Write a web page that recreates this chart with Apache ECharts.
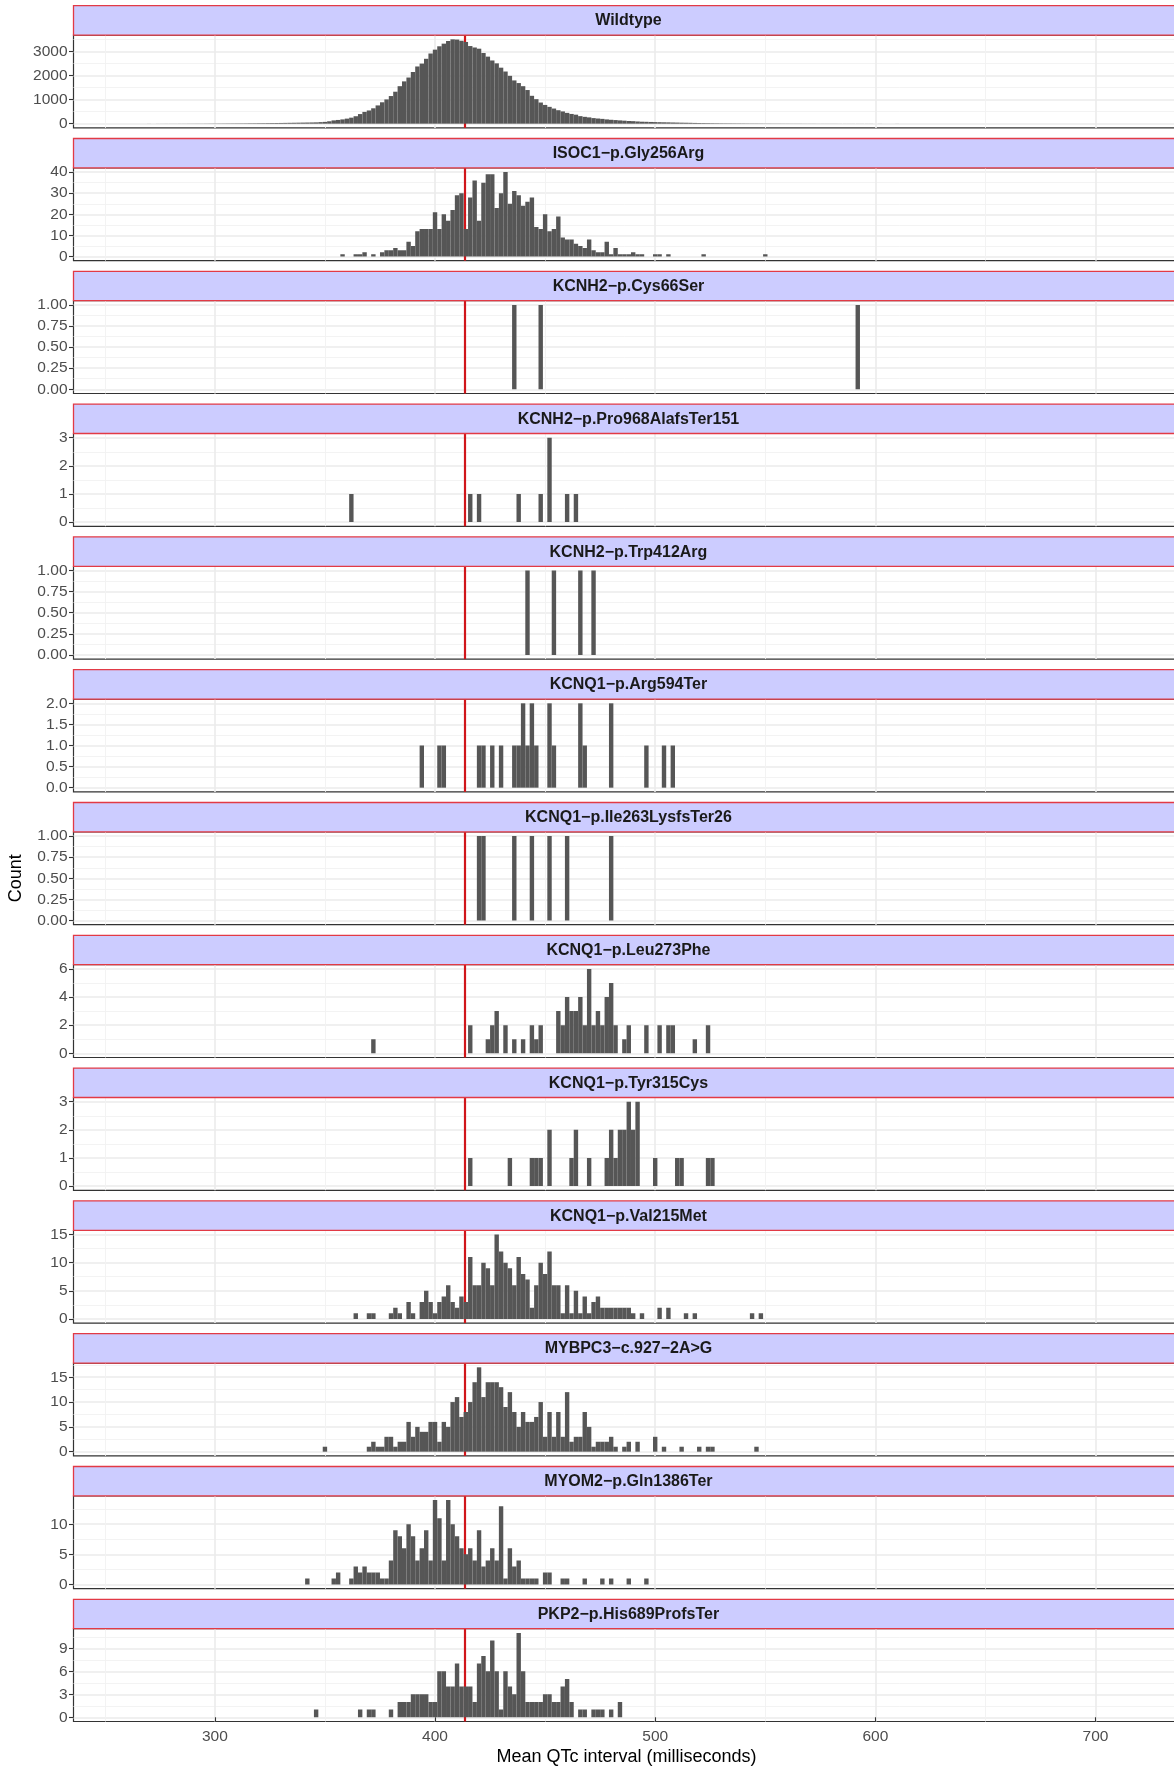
<!DOCTYPE html>
<html><head><meta charset="utf-8">
<script src="https://cdn.jsdelivr.net/npm/echarts@6/dist/echarts.min.js"></script>
<style>html,body{margin:0;padding:0;background:#fff;}#chart{width:1174px;height:1768px;}</style>
</head><body><div id="chart"></div>
<script>
// ---------------- DATA ----------------
const panelNames = [
  'Wildtype', 'ISOC1\u2212p.Gly256Arg', 'KCNH2\u2212p.Cys66Ser', 'KCNH2\u2212p.Pro968AlafsTer151',
  'KCNH2\u2212p.Trp412Arg', 'KCNQ1\u2212p.Arg594Ter', 'KCNQ1\u2212p.Ile263LysfsTer26',
  'KCNQ1\u2212p.Leu273Phe', 'KCNQ1\u2212p.Tyr315Cys', 'KCNQ1\u2212p.Val215Met',
  'MYBPC3\u2212c.927\u22122A>G', 'MYOM2\u2212p.Gln1386Ter', 'PKP2\u2212p.His689ProfsTer'
];
const binWidth = 2;              // ms, bins centred on even values
const xMin = 235.8, xMax = 739.9;
const xBreaks = [300, 400, 500, 600, 700];
const xMinorBreaks = [250, 350, 450, 550, 650];
const refLineX = 413.6;
const xTitle = 'Mean QTc interval (milliseconds)';
const yTitle = 'Count';

// dense histograms: first bin centre + counts every 2 ms
const wildtypeStart = 260;
const wildtypeCounts = [
  1,0,1,1,1,2,1,2,2,3, 3,3,4,4,5,5,6,6,7,8, 9,10,11,12,13,14,15,16,18,19,
  21,22,24,26,28,30,33,36,39,42, 45,48,51,55,65,75,100,137,155,178,
  210,250,310,400,490,550,640,760,890,1010, 1150,1330,1560,1760,1920,2150,2380,2500,2700,2920,
  3080,3220,3330,3440,3510,3500,3450,3400,3230,3170, 3120,2940,2790,2630,2510,2330,2170,1990,1800,1690,
  1560,1400,1160,1020,880,780,700,630,560,510, 450,405,375,314,285,262,232,215,200,178,
  162,150,137,125,112,105,92,82,78,72, 66,62,58,55,50,46,42,39,36,31,
  27,25,23,21,19,17,16,15,14,13, 12,11,10,10,9,8,8,7,7,6, 6,5,5,5,4,4,4,3,3,3,
  3,3,2,2,2,2,2,2,2,2, 1,2,1,1,1,2,1,1,1,1, 1,1,0,1,1,1,0,1,1,0,
  1,1,0,1,0,1,1,0,1,0, 1,0,1,0,1,0,0,1,0,1, 0,1,0,0,1,0,1,0,0,1,
  0,0,1,0,0,1,0,0,1
];
const isoc1Start = 358;
const isoc1Counts = [
  1,0,0,1,1,2,0,1,0,2, 3,3,4,3,3,7,5,12,13,13, 13,21,13,20,17,22,29,30,13,28,
  36,17,35,39,39,23,30,40,25,31, 29,24,26,28,14,13,20,12,13,19, 9,8,8,6,5,4,8,3,2,2,
  7,1,4,1,1,1,2,1,1,0, 0,1,1,0,1,0,0,0,0,0, 0,0,1,0,0,0,0,0,0,0, 0,0,0,0,0,0,1
];
const val215MetStart = 364;
const val215MetCounts = [
  1,0,0,1,1,0,0,0,1,2, 1,0,3,1,0,3,5,3,1,3, 4,6,3,2,4,3,11,6,6,10,
  9,6,15,12,10,9,6,11,8,7, 2,6,10,8,12,6,6,1,6,1, 5,1,4,1,3,4,2,2,2,2,
  2,2,2,1,0,1,0,0,0,2, 0,2,0,0,0,1,0,1,0,0, 0,0,0,0,0,0,0,0,0,0, 1,0,1
];
const mybpc3Start = 350;
const mybpc3Counts = [
  1,0,0,0,0,0,0,0,0,0, 1,2,1,1,3,3,1,2,2,6, 3,5,4,4,6,6,2,6,5,10,
  11,7,8,10,14,17,11,14,14,14, 13,9,12,8,5,8,6,6,7,10, 3,8,3,8,3,12,2,3,3,8,
  5,1,2,2,2,3,1,0,1,2, 0,2,0,0,0,3,0,1,0,0, 0,1,0,0,0,1,0,1,1,0, 0,0,0,0,0,0,0,0,1
];
const myom2Start = 342;
const myom2Counts = [
  1,0,0,0,0,0,1,2,0,0, 1,3,2,3,2,2,2,1,1,4, 9,8,6,10,8,4,6,9,4,14,
  11,4,14,10,8,6,5,6,4,9, 3,4,6,4,13,1,6,3,4,1, 1,1,1,0,2,2,0,0,1,1,
  0,0,0,1,0,0,0,1,0,1, 0,0,0,1,0,0,0,1
];
const pkp2Start = 346;
const pkp2Counts = [
  1,0,0,0,0,0,0,0,0,0, 1,0,1,1,0,0,0,1,0,2, 2,2,3,3,3,3,2,2,6,6,
  4,4,7,4,4,4,2,7,8,6, 10,6,1,6,4,3,11,6,2,2, 2,2,3,3,2,2,4,5,2,0,
  1,1,0,1,1,1,0,1,0,2
];

// sparse histograms: bin centres + counts
const cys66SerBins = [436, 448, 592];
const cys66SerCounts = [1, 1, 1];
const pro968Bins = [362, 416, 420, 438, 448, 452, 460, 464];
const pro968Counts = [1, 1, 1, 1, 1, 3, 1, 1];
const trp412ArgBins = [442, 454, 466, 472];
const trp412ArgCounts = [1, 1, 1, 1];
const arg594TerBins = [394, 402, 404, 420, 422, 426, 430, 436, 438, 440, 442, 444, 446, 452, 454, 466, 468, 480, 496, 504, 508];
const arg594TerCounts = [1, 1, 1, 1, 1, 1, 1, 1, 1, 2, 1, 2, 1, 2, 1, 2, 1, 2, 1, 1, 1];
const ile263Bins = [420, 422, 436, 444, 452, 460, 480];
const ile263Counts = [1, 1, 1, 1, 1, 1, 1];
const leu273PheBins = [372, 416, 424, 426, 428, 432, 436, 440, 444, 446, 448, 456, 458, 460, 462, 464, 466, 468, 470, 472, 474, 476, 478, 480, 482, 486, 488, 496, 502, 506, 508, 518, 524];
const leu273PheCounts = [1, 2, 1, 2, 3, 2, 1, 1, 2, 1, 2, 3, 2, 4, 3, 3, 4, 2, 6, 2, 3, 2, 4, 5, 2, 1, 2, 2, 2, 2, 2, 1, 2];
const tyr315CysBins = [416, 434, 444, 446, 448, 452, 462, 464, 470, 478, 480, 482, 484, 486, 488, 490, 492, 500, 510, 512, 524, 526];
const tyr315CysCounts = [1, 1, 1, 1, 1, 2, 1, 2, 1, 1, 2, 1, 2, 2, 3, 2, 3, 1, 1, 1, 1, 1];

// y-axis breaks per panel
const yBreaks = [
  [0, 1000, 2000, 3000], [0, 10, 20, 30, 40], [0, 0.25, 0.5, 0.75, 1], [0, 1, 2, 3],
  [0, 0.25, 0.5, 0.75, 1], [0, 0.5, 1, 1.5, 2], [0, 0.25, 0.5, 0.75, 1], [0, 2, 4, 6],
  [0, 1, 2, 3], [0, 5, 10, 15], [0, 5, 10, 15], [0, 5, 10], [0, 3, 6, 9]
];

// ---------------- BUILD ----------------
function dense(start, counts) { return counts.map((c, i) => [start + i * binWidth, c]); }
function sparse(bins, counts) { return bins.map((b, i) => [b, counts[i]]); }
const panelData = [
  dense(wildtypeStart, wildtypeCounts), dense(isoc1Start, isoc1Counts),
  sparse(cys66SerBins, cys66SerCounts), sparse(pro968Bins, pro968Counts),
  sparse(trp412ArgBins, trp412ArgCounts), sparse(arg594TerBins, arg594TerCounts),
  sparse(ile263Bins, ile263Counts), sparse(leu273PheBins, leu273PheCounts),
  sparse(tyr315CysBins, tyr315CysCounts), dense(val215MetStart, val215MetCounts),
  dense(mybpc3Start, mybpc3Counts), dense(myom2Start, myom2Counts), dense(pkp2Start, pkp2Counts)
];

const FONT = '"Liberation Sans", Arial, Helvetica, sans-serif';
const L = { left: 73.5, width: 1109.9, top0: 5.7, stride: 132.8, stripH: 29.4, plotH: 92.8 };
const GRID_MAJOR = '#EBEBEB', GRID_MINOR = '#F2F2F2';
const n = panelNames.length;

function decimals(arr) {
  return Math.max(...arr.map(v => { const s = String(v); return s.includes('.') ? s.split('.')[1].length : 0; }));
}
function minorOf(br, hi) {
  const step = br[1] - br[0], out = [];
  for (let v = br[0] - step / 2; v <= hi + 1e-9; v += step) out.push(v);
  return out;
}

const grids = [], xAxes = [], yAxes = [], series = [], graphics = [];
for (let i = 0; i < n; i++) {
  const stripTop = L.top0 + i * L.stride;
  const plotTop = stripTop + L.stripH;
  const data = panelData[i].filter(d => d[1] > 0);
  const M = Math.max(...data.map(d => d[1]));
  const yLo = -0.05 * M, yHi = 1.05 * M;
  const br = yBreaks[i];
  const dec = decimals(br);
  const last = i === n - 1;

  grids.push({ left: L.left, top: plotTop, width: L.width, height: L.plotH, show: true,
    backgroundColor: '#ffffff', borderColor: '#333333', borderWidth: 1.2, outerBoundsMode: 'none' });

  xAxes.push({ gridIndex: i, type: 'value', min: xMin, max: xMax, position: 'bottom',
    axisLine: { show: false },
    axisTick: { show: last, customValues: xBreaks, length: 4.5, lineStyle: { color: '#333333', width: 1.1 } },
    axisLabel: { show: last, customValues: xBreaks, color: '#4D4D4D', fontSize: 15.5, fontFamily: FONT, margin: 7.5 },
    splitLine: { show: true, lineStyle: { color: GRID_MAJOR, width: 1.6 } }, z: 0 });
  xAxes.push({ gridIndex: i, type: 'value', min: xMin, max: xMax, position: 'top',
    axisLine: { show: false }, axisTick: { show: false, customValues: xMinorBreaks },
    axisLabel: { show: false }, splitLine: { show: true, lineStyle: { color: GRID_MINOR, width: 0.9 } }, z: 0 });

  yAxes.push({ gridIndex: i, type: 'value', min: yLo, max: yHi, position: 'left',
    axisLine: { show: false },
    axisTick: { show: true, customValues: br, length: 4.5, lineStyle: { color: '#333333', width: 1.1 } },
    axisLabel: { show: true, customValues: br, color: '#4D4D4D', fontSize: 15.5, fontFamily: FONT, margin: 6,
      formatter: v => Number(v).toFixed(dec) },
    splitLine: { show: true, lineStyle: { color: GRID_MAJOR, width: 1.6 } }, z: 0 });
  yAxes.push({ gridIndex: i, type: 'value', min: yLo, max: yHi, position: 'right',
    axisLine: { show: false }, axisTick: { show: false, customValues: minorOf(br, yHi) },
    axisLabel: { show: false }, splitLine: { show: true, lineStyle: { color: GRID_MINOR, width: 0.9 } }, z: 0 });

  series.push({
    type: 'custom', name: panelNames[i], xAxisIndex: 2 * i, yAxisIndex: 2 * i,
    data: data, encode: { x: 0, y: 1 }, clip: true, z: 5,
    renderItem: (params, api) => {
      const x = api.value(0), c = api.value(1);
      const p0 = api.coord([x - binWidth / 2, 0]);
      const p1 = api.coord([x + binWidth / 2, c]);
      return { type: 'rect', shape: { x: p0[0], y: p1[1], width: p1[0] - p0[0], height: p0[1] - p1[1] },
        style: { fill: '#565656' } };
    },
    markLine: { silent: true, symbol: ['none', 'none'], label: { show: false }, animation: false,
      lineStyle: { color: '#D0161B', width: 2.2, type: 'solid' }, emphasis: { disabled: true },
      data: [{ xAxis: refLineX }] }
  });

  graphics.push({ type: 'rect', z: 100, shape: { x: L.left, y: stripTop, width: L.width, height: L.stripH },
    style: { fill: '#CCCCFF', stroke: '#E23A46', lineWidth: 1.3 } });
  graphics.push({ type: 'text', z: 101, x: L.left + L.width / 2, y: stripTop + L.stripH / 2 + 0.5,
    style: { text: panelNames[i], fill: '#1A1A1A', font: 'bold 16px ' + FONT, textAlign: 'center', textVerticalAlign: 'middle' } });
}
const lastBottom = L.top0 + (n - 1) * L.stride + L.stripH + L.plotH;
graphics.push({ type: 'text', z: 101, x: L.left + L.width / 2 - 2, y: lastBottom + 35.5,
  style: { text: xTitle, fill: '#000000', font: '18px ' + FONT, textAlign: 'center', textVerticalAlign: 'middle' } });
graphics.push({ type: 'text', z: 101, x: 16, y: (L.top0 + L.stripH + lastBottom) / 2, rotation: Math.PI / 2,
  style: { text: yTitle, fill: '#000000', font: '18px ' + FONT, textAlign: 'center', textVerticalAlign: 'middle' } });

const chart = echarts.init(document.getElementById('chart'), null, { renderer: 'canvas', width: 1174, height: 1768 });
chart.setOption({
  animation: false, backgroundColor: '#ffffff',
  grid: grids, xAxis: xAxes, yAxis: yAxes, series: series, graphic: graphics
});
</script></body></html>
